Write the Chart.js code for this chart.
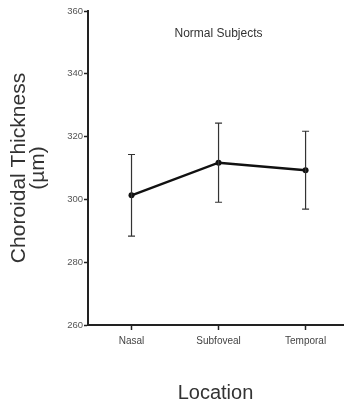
<!DOCTYPE html>
<html>
<head>
<meta charset="utf-8">
<script src="https://cdn.jsdelivr.net/npm/chart.js@4"></script>
<style>
  html, body { margin: 0; padding: 0; background: #fff; }
  #wrap { width: 347px; height: 405px; }
</style>
</head>
<body>
<div id="wrap"><canvas id="chart" width="347" height="405"></canvas></div>
<script>
// values
const locations = ['Nasal', 'Subfoveal', 'Temporal'];
const meanThickness = [301.3, 311.7, 309.3];
const sdThickness = [13.0, 12.6, 12.4];
const yTicks = [260, 280, 300, 320, 340, 360];

const FONT = '"Liberation Sans", Arial, sans-serif';

// error bars, drawn through the scales
const errorBars = {
  id: 'errorBars',
  afterDatasetsDraw(chart) {
    const { ctx, scales: { x, y } } = chart;
    ctx.save();
    ctx.strokeStyle = '#333';
    ctx.lineWidth = 1.2;
    meanThickness.forEach((m, i) => {
      const px = x.getPixelForValue(i);
      const top = y.getPixelForValue(m + sdThickness[i]);
      const bot = y.getPixelForValue(m - sdThickness[i]);
      ctx.beginPath();
      ctx.moveTo(px, top); ctx.lineTo(px, bot);
      ctx.moveTo(px - 3.5, top); ctx.lineTo(px + 3.5, top);
      ctx.moveTo(px - 3.5, bot); ctx.lineTo(px + 3.5, bot);
      ctx.stroke();
    });
    ctx.restore();
  }
};

// "Normal Subjects" label inside the plot
const panelLabel = {
  id: 'panelLabel',
  afterDraw(chart) {
    const { ctx, chartArea } = chart;
    ctx.save();
    ctx.font = '12px ' + FONT;
    ctx.fillStyle = '#333';
    ctx.textAlign = 'center';
    ctx.textBaseline = 'middle';
    ctx.fillText('Normal Subjects', (chartArea.left + chartArea.right) / 2 + 3, 34);
    ctx.restore();
  }
};

new Chart(document.getElementById('chart'), {
  type: 'line',
  data: {
    datasets: [{
      data: meanThickness.map((v, i) => ({ x: i, y: v })),
      borderColor: '#111',
      borderWidth: 2.5,
      pointRadius: 3,
      pointBackgroundColor: '#111',
      pointBorderWidth: 0,
      tension: 0
    }]
  },
  options: {
    responsive: false,
    animation: false,
    layout: { padding: { top: 11, left: 0, right: 0, bottom: 0 } },
    plugins: { legend: { display: false }, tooltip: { enabled: false } },
    scales: {
      x: {
        type: 'linear',
        min: -0.5,
        max: 2.43,
        afterBuildTicks: s => { s.ticks = locations.map((c, i) => ({ value: i })); },
        afterFit: s => { s.height = 80; },
        grid: { drawOnChartArea: false, drawTicks: true, tickLength: 5, tickColor: '#222', tickWidth: 1.5 },
        border: { display: true, color: '#222', width: 2 },
        ticks: {
          callback: v => locations[v],
          font: { family: FONT, size: 10 },
          color: '#444',
          padding: 5,
          maxRotation: 0
        },
        title: {
          display: true,
          text: 'Location',
          font: { family: FONT, size: 20, lineHeight: 1.2 },
          color: '#333',
          padding: { top: 0, bottom: 0 }
        }
      },
      y: {
        min: yTicks[0],
        max: yTicks[yTicks.length - 1],
        afterBuildTicks: s => { s.ticks = yTicks.map(v => ({ value: v })); },
        afterFit: s => { s.width = 88; },
        grid: { drawOnChartArea: false, drawTicks: true, tickLength: 4, tickColor: '#222', tickWidth: 1.5 },
        border: { display: true, color: '#222', width: 2 },
        ticks: {
          font: { family: FONT, size: 9.5 },
          color: '#555',
          padding: 1
        },
        title: {
          display: true,
          text: ['Choroidal Thickness', '(\u00b5m)'],
          font: { family: FONT, size: 21, lineHeight: 0.9 },
          color: '#333',
          padding: { top: 10, bottom: 0 }
        }
      }
    }
  },
  plugins: [errorBars, panelLabel]
});
</script>
</body>
</html>
